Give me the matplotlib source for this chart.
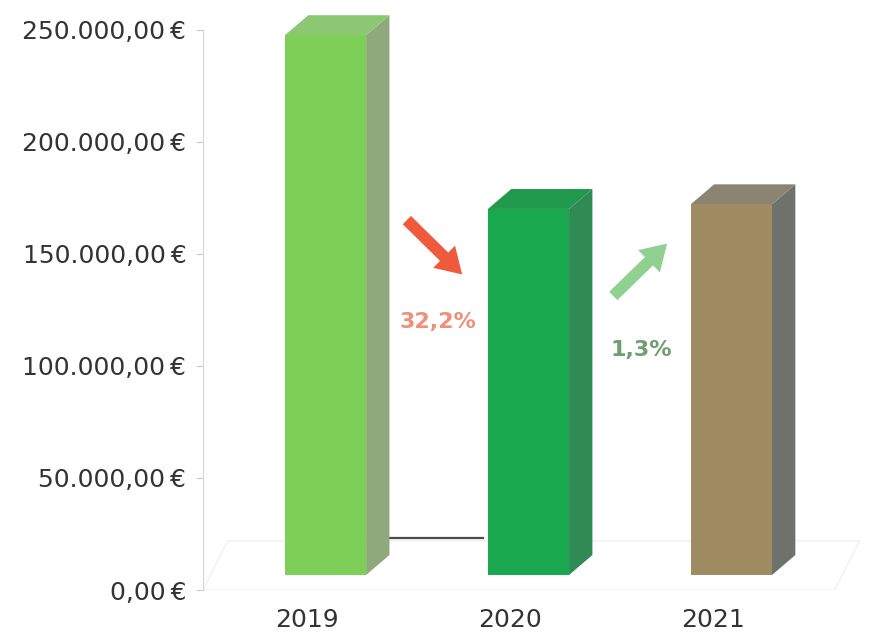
import matplotlib.pyplot as plt
from matplotlib.patches import Polygon, FancyArrowPatch
from matplotlib.ticker import FuncFormatter

# data
years = ['2019', '2020', '2021']
values = [241000, 163400, 165500]
front_cols = ['#7dcf57', '#19a84d', '#a08c63']
top_cols = ['#8cc874', '#229a4e', '#8c8472']
side_cols = ['#8fa97c', '#2f8a54', '#6f716d']
changes = ['32,2%', '1,3%']
change_cols = ['#f0907a', '#6f9f6f']
arrow_cols = ['#ef5a3c', '#90d090']
y_ticks = [0, 50000, 100000, 150000, 200000, 250000]

# fake 3d geometry (axis units)
base = 6700      # front face sits a bit lower than the back wall
x_off = -0.108   # front face left edge relative to the category position
bw = 0.40
dx, dy = 0.115, 8900


def euro(v, pos=None):
    s = f"{v:,.2f}".replace(',', 'X').replace('.', ',').replace('X', '.')
    return s + '\u2009€'


fig = plt.figure(figsize=(8.71, 6.34), dpi=100)
ax = fig.add_axes([0.233, 0.0694, 0.754, 0.8833])
ax.set_xlim(-0.512, 2.724)
ax.set_ylim(0, 250000)

# floor
floor = Polygon([(-0.512, 0), (2.60, 0), (2.724, 22000), (-0.39, 22000)],
                closed=True, facecolor='none', edgecolor='#f0f0f0', lw=1.0, zorder=0)
ax.add_patch(floor)
ax.plot([0.41, 0.87], [23000, 23000], color='#4a4a4a', lw=1.6, zorder=1)

xs = list(range(len(years)))
for i, (x, v) in enumerate(zip(xs, values)):
    x0 = x + x_off
    x1 = x0 + bw
    top = base + v
    ax.bar(x0, v, bottom=base, width=bw, align='edge', color=front_cols[i],
           edgecolor='none', zorder=3, clip_on=False)
    ax.add_patch(Polygon([(x1, base), (x1 + dx, base + dy), (x1 + dx, top + dy), (x1, top)],
                         closed=True, facecolor=side_cols[i], edgecolor='none', zorder=2, clip_on=False))
    ax.add_patch(Polygon([(x0, top), (x1, top), (x1 + dx, top + dy), (x0 + dx, top + dy)],
                         closed=True, facecolor=top_cols[i], edgecolor='none', zorder=2, clip_on=False))

# change arrows and labels
arrows = [((0.483, 166000), (0.775, 140000)), ((1.50, 130400), (1.785, 155500))]
label_pos = [(0.645, 119600), (1.65, 107100)]
for (p0, p1), col in zip(arrows, arrow_cols):
    ax.add_patch(FancyArrowPatch(p0, p1, arrowstyle='simple,head_width=1.6,head_length=1.3,tail_width=0.6',
                                 mutation_scale=14, color=col, lw=0, zorder=5))
for (tx, ty), txt, col in zip(label_pos, changes, change_cols):
    ax.text(tx, ty, txt, color=col, fontsize=16, fontweight='bold', ha='center', va='center', zorder=5)

# axes styling
for s in ['top', 'right', 'bottom']:
    ax.spines[s].set_visible(False)
ax.spines['left'].set_color('#d6d6d6')
ax.set_yticks(y_ticks)
ax.yaxis.set_major_formatter(FuncFormatter(euro))
ax.tick_params(axis='y', colors='#c8c8c8', length=5, pad=7, labelsize=18, labelcolor='#333333')
ax.set_xticks(xs)
ax.set_xticklabels(years)
ax.tick_params(axis='x', length=0, pad=13, labelsize=18, labelcolor='#333333')
ax.set_facecolor('none')

fig.savefig('out.png', dpi=100)
